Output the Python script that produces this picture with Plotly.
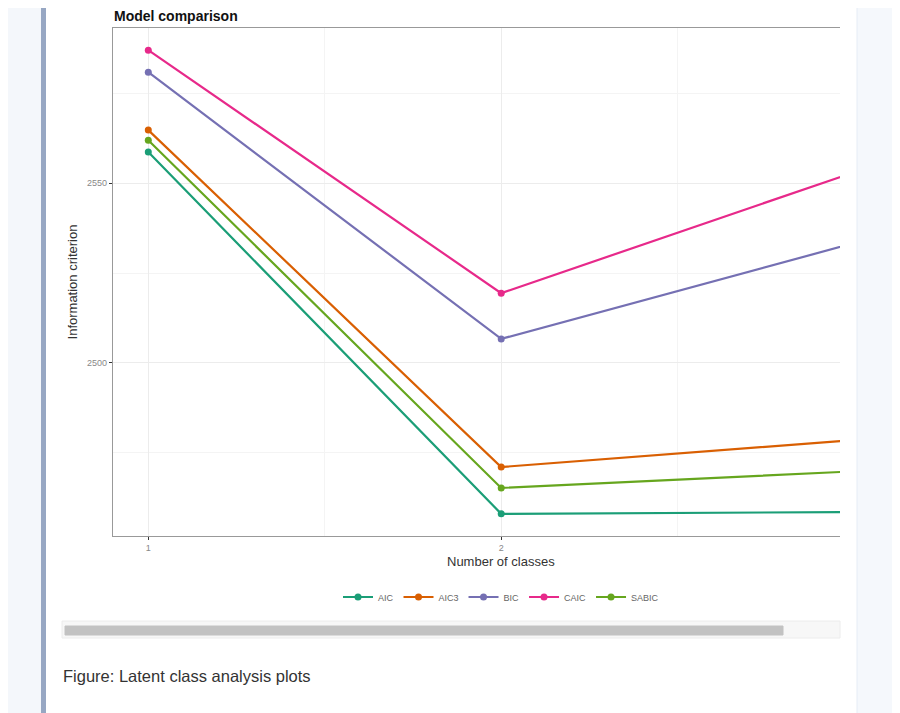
import plotly.graph_objects as go

# information criteria per number of classes
n_classes = [1, 2, 3]
aic = [2558.6, 2458.1, 2458.6]
aic3 = [2564.7, 2471.1, 2478.6]
bic = [2580.8, 2506.7, 2533.3]
caic = [2586.9, 2519.4, 2553.0]
sabic = [2561.9, 2465.3, 2469.9]

series = [('AIC', aic, '#1B9E77'),
          ('AIC3', aic3, '#D95F02'),
          ('BIC', bic, '#7570B3'),
          ('CAIC', caic, '#E7298A'),
          ('SABIC', sabic, '#66A61E')]

# page body has an 8px margin, so the figure is a bit smaller than the window
OFF = 8
W, H = 900 - OFF, 713 - OFF
X0, X1, Y0, Y1 = 113, 840, 28, 536  # plot area in window pixels
pw, ph = X1 - X0, Y1 - Y0


def px(x):
    return (x - X0) / pw


def py(y):
    return (Y1 - y) / ph


fig = go.Figure()
for name, vals, col in series:
    fig.add_trace(go.Scatter(x=n_classes, y=vals, name=name, mode='lines+markers',
                             line=dict(color=col, width=2.2),
                             marker=dict(color=col, size=7)))

shapes = [
    dict(type='rect', x0=px(0), x1=px(41), y0=py(-10), y1=py(H + 20), fillcolor='#f4f7fb', line_width=0),
    dict(type='rect', x0=px(41), x1=px(46), y0=py(-10), y1=py(H + 20), fillcolor='#97a7c3', line_width=0),
    dict(type='rect', x0=px(857), x1=px(910), y0=py(-10), y1=py(H + 20), fillcolor='#f5f8fc',
         line=dict(color='#e6ecf5', width=1)),
    # scrollbar
    dict(type='rect', x0=px(62), x1=px(840), y0=py(621), y1=py(638), fillcolor='#f7f7f7',
         line=dict(color='#ececec', width=1)),
    dict(type='rect', x0=px(65), x1=px(783), y0=py(626), y1=py(635), fillcolor='#c2c2c2',
         line=dict(color='#c2c2c2', width=1)),
]
for s in shapes:
    s['xref'] = 'paper'
    s['yref'] = 'paper'
    s['layer'] = 'below'

fig.update_layout(
    width=W, height=H,
    margin=dict(l=X0 - OFF, r=OFF + W - X1, t=Y0 - OFF, b=OFF + H - Y1),
    paper_bgcolor='white', plot_bgcolor='white',
    font=dict(family='Liberation Sans, Arial, sans-serif', color='#222'),
    showlegend=True,
    legend=dict(orientation='h', x=px(501), xanchor='center', y=py(597), yanchor='middle',
                font=dict(size=9, color='#666'), tracegroupgap=0),
    shapes=shapes,
    annotations=[
        dict(text='<b>Model comparison</b>', xref='paper', yref='paper', x=px(112), y=py(16),
             xanchor='left', yanchor='middle', showarrow=False, font=dict(size=14, color='#111')),
        dict(text='Number of classes', xref='x', yref='paper', x=2, y=py(561),
             xanchor='center', yanchor='middle', showarrow=False, font=dict(size=13, color='#333')),
        dict(text='Figure: Latent class analysis plots', xref='paper', yref='paper', x=px(61), y=py(676),
             xanchor='left', yanchor='middle', showarrow=False, font=dict(size=16.5, color='#333')),
    ],
)

fig.update_xaxes(range=[0.9, 2.96], tickvals=[1, 2], ticktext=['1', '2'],
                 ticks='outside', ticklen=3, tickcolor='#333', tickwidth=1,
                 tickfont=dict(size=9, color='#888888'),
                 showline=True, linecolor='#999', linewidth=1.2, mirror=True,
                 showgrid=True, gridcolor='#ececec', gridwidth=1,
                 minor=dict(dtick=0.5, tick0=0.5, showgrid=True, gridcolor='#f4f4f4', gridwidth=1),
                 zeroline=False)
fig.update_yaxes(range=[2451.94, 2593.06], tickvals=[2500, 2550],
                 ticks='outside', ticklen=3, tickcolor='#333', tickwidth=1,
                 tickfont=dict(size=9, color='#888888'),
                 showline=True, linecolor='#999', linewidth=1.2,
                 showgrid=True, gridcolor='#ececec', gridwidth=1,
                 minor=dict(dtick=25, tick0=0, showgrid=True, gridcolor='#f4f4f4', gridwidth=1),
                 title=dict(text='Information criterion', font=dict(size=13, color='#333'), standoff=6),
                 zeroline=False)

fig.write_html("out.html")
